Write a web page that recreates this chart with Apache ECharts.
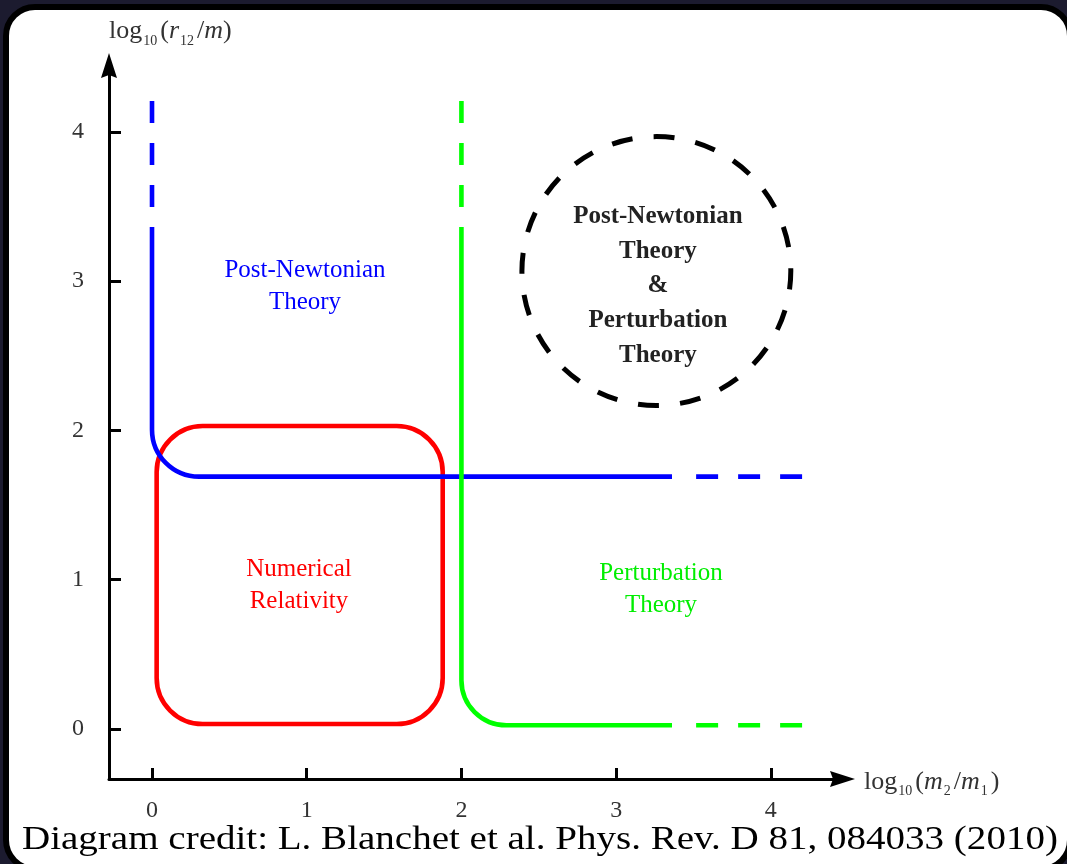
<!DOCTYPE html>
<html>
<head>
<meta charset="utf-8">
<script src="https://cdn.jsdelivr.net/npm/echarts@6/dist/echarts.min.js"></script>
<style>
  html, body { margin: 0; padding: 0; width: 1067px; height: 864px; overflow: hidden; background: #1c1b2f; }
  #frame { position: absolute; left: 3px; top: 4px; width: 1058px; height: 856px; border: 6px solid #000; border-radius: 32px; background: #fff; }
  #chart { position: absolute; left: 0; top: 0; width: 1067px; height: 864px; }
</style>
</head>
<body>
<div id="frame"></div>
<div id="chart"></div>
<script>
// Domains of validity of the approximation schemes for compact binaries,
// in the plane log10(m2/m1) vs log10(r12/m).

const xTicks = [0, 1, 2, 3, 4];
const yTicks = [0, 1, 2, 3, 4];
const xRange = [-0.278, 4.447];
const yRange = [-0.335, 4.427];

// Post-Newtonian boundary: dashed lead-in, solid bend, dashed tail
const pnLeadIn = [[0, 4.206], [0, 3.356]];
const pnBend = [[0, 3.356, 0, 1.69, 3.361, 1.69]];
const pnTail = [[3.517, 1.69], [4.202, 1.69]];

// Perturbation theory boundary
const ptLeadIn = [[2, 4.206], [2, 3.356]];
const ptBend = [[2, 3.356, 2, 0.025, 3.361, 0.025]];
const ptTail = [[3.517, 0.025], [4.202, 0.025]];

// Numerical relativity box: [xMin, yMin, xMax, yMax]
const nrBox = [[0.030, 0.033, 1.879, 2.029]];

// Overlap of both schemes: [cx, cy, radius in x units]
const overlapCircle = [[3.26, 3.067, 0.869]];

// Region names and where they sit
const regionNames = [
  'Post-Newtonian\nTheory',
  'Numerical\nRelativity',
  'Perturbation\nTheory',
  'Post-Newtonian\nTheory\n&\nPerturbation\nTheory'
];
const regionX = [0.989, 0.95, 3.29, 3.27];
const regionY = [2.963, 0.963, 0.936, 2.967];

const creditText = 'Diagram credit: L. Blanchet et al. Phys. Rev. D 81, 084033 (2010)';

const BLUE = '#0000ff', RED = '#ff0000', GREEN = '#00ff00';
const SERIF = 'Liberation Serif';
const LW = 4.6;
const ARROW = 'path://M8,0 L16,25 L8,22 L0,25 Z';

function dashedSeg(data, color) {
  return {
    type: 'line', data: data, symbol: 'none', silent: true, z: 3,
    lineStyle: { color: color, width: LW, type: [22, 20], cap: 'butt' }
  };
}

// L-shaped path with a rounded corner at its middle vertex
function bendSeries(data, color, radius) {
  return {
    type: 'custom', data: data, silent: true, z: 3,
    renderItem: function (params, api) {
      const a = api.coord([api.value(0), api.value(1)]);
      const c = api.coord([api.value(2), api.value(3)]);
      const b = api.coord([api.value(4), api.value(5)]);
      const unit = (p, q) => { const dx = q[0] - p[0], dy = q[1] - p[1]; const l = Math.hypot(dx, dy) || 1; return [dx / l, dy / l]; };
      const u1 = unit(a, c), u2 = unit(c, b);
      const s = [c[0] - u1[0] * radius, c[1] - u1[1] * radius];
      const e = [c[0] + u2[0] * radius, c[1] + u2[1] * radius];
      const k = 0.5523 * radius;
      const c1 = [s[0] + u1[0] * k, s[1] + u1[1] * k];
      const c2 = [e[0] - u2[0] * k, e[1] - u2[1] * k];
      const d = 'M' + a.join(' ') + ' L' + s.join(' ') + ' C' + c1.join(' ') + ' ' + c2.join(' ') + ' ' + e.join(' ') + ' L' + b.join(' ');
      return {
        type: 'path', shape: { pathData: d },
        style: { fill: 'none', stroke: color, lineWidth: LW }
      };
    }
  };
}

function labelSeries(i, color, weight, lineHeight) {
  return {
    type: 'custom', data: [[regionX[i], regionY[i]]], silent: true, z: 5,
    renderItem: function (params, api) {
      const p = api.coord([api.value(0), api.value(1)]);
      return {
        type: 'text', x: p[0], y: p[1],
        style: {
          text: regionNames[i], fill: color, fontFamily: SERIF, fontSize: 25,
          fontWeight: weight, align: 'center', verticalAlign: 'middle', lineHeight: lineHeight
        }
      };
    }
  };
}

const nameRich = {
  n: { fontFamily: SERIF, fontSize: 26, color: '#333' },
  i: { fontFamily: SERIF, fontSize: 26, color: '#333', fontStyle: 'italic' },
  s: { fontFamily: SERIF, fontSize: 14, color: '#333', padding: [19, 3, 0, 1] }
};

const chart = echarts.init(document.getElementById('chart'), null, { renderer: 'canvas' });

chart.setOption({
  animation: false,
  backgroundColor: 'transparent',
  grid: { left: 109, right: 1067 - 840, top: 68, bottom: 864 - 779 },
  xAxis: {
    type: 'value', min: xRange[0], max: xRange[1],
    axisLine: {
      show: true, onZero: false, lineStyle: { color: '#000', width: 3 },
      symbol: ['none', ARROW], symbolSize: [16, 25], symbolOffset: [0, 2.5]
    },
    axisTick: { show: true, inside: true, length: 11, customValues: xTicks, lineStyle: { color: '#000', width: 3 } },
    axisLabel: { customValues: xTicks, margin: 20, color: '#333', fontFamily: SERIF, fontSize: 24 },
    splitLine: { show: false },
    name: '{n|log}{s|10}{n|(}{i|m}{s|2}{n|/}{i|m}{s|1}{n|)}',
    nameLocation: 'end', nameGap: 24,
    nameTextStyle: { align: 'left', verticalAlign: 'middle', padding: [6, 0, 0, 0], rich: nameRich }
  },
  yAxis: {
    type: 'value', min: yRange[0], max: yRange[1],
    axisLine: {
      show: true, onZero: false, lineStyle: { color: '#000', width: 3 },
      symbol: ['none', ARROW], symbolSize: [16, 25], symbolOffset: [0, 2.5]
    },
    axisTick: { show: true, inside: true, length: 12, customValues: yTicks, lineStyle: { color: '#000', width: 3 } },
    axisLabel: { customValues: yTicks, margin: 25, color: '#333', fontFamily: SERIF, fontSize: 24 },
    splitLine: { show: false },
    name: '{n|log}{s|10}{n|(}{i|r}{s|12}{n|/}{i|m}{n|)}',
    nameLocation: 'end', nameGap: 20,
    nameTextStyle: { align: 'left', verticalAlign: 'bottom', rich: nameRich }
  },
  graphic: [{
    type: 'text', x: 22, y: 823, scaleX: 1.148,
    style: { text: creditText, fill: '#000', fontFamily: SERIF, fontSize: 34, verticalAlign: 'top' }
  }],
  series: [
    // numerical relativity box
    {
      type: 'custom', data: nrBox, silent: true, z: 2,
      renderItem: function (params, api) {
        const p0 = api.coord([api.value(0), api.value(3)]);
        const p1 = api.coord([api.value(2), api.value(1)]);
        return {
          type: 'rect',
          shape: { x: p0[0], y: p0[1], width: p1[0] - p0[0], height: p1[1] - p0[1], r: 46 },
          style: { fill: 'none', stroke: RED, lineWidth: LW }
        };
      }
    },
    dashedSeg(pnLeadIn, BLUE), bendSeries(pnBend, BLUE, 47), dashedSeg(pnTail, BLUE),
    dashedSeg(ptLeadIn, GREEN), bendSeries(ptBend, GREEN, 45), dashedSeg(ptTail, GREEN),
    // overlap circle
    {
      type: 'custom', data: overlapCircle, silent: true, z: 2,
      renderItem: function (params, api) {
        const c = api.coord([api.value(0), api.value(1)]);
        const r = api.size([api.value(2), 0])[0];
        return {
          type: 'circle', shape: { cx: c[0], cy: c[1], r: r },
          style: { fill: 'none', stroke: '#000', lineWidth: 5, lineDash: [21, 21.2], lineDashOffset: 2.5 }
        };
      }
    },
    labelSeries(0, BLUE, 'normal', 32),
    labelSeries(1, RED, 'normal', 32),
    labelSeries(2, '#00ee00', 'normal', 32),
    labelSeries(3, '#222', 'bold', 34.7)
  ]
});
</script>
</body>
</html>
